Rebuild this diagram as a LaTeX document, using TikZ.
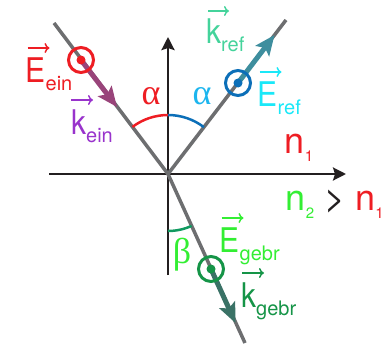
\documentclass[tikz,border=0pt]{standalone}
\usepackage{fontspec}
\setmainfont{TeX Gyre Heros}
\newfontfamily\vecfont{TeX Gyre Heros}[FakeStretch=0.88]
\newfontfamily\greekfont{Liberation Serif}
\usetikzlibrary{arrows.meta}
\definecolor{ink}{HTML}{231F20}
\definecolor{raygray}{HTML}{6D6E70}
\definecolor{einred}{HTML}{EE1D23}
\definecolor{kinpurple}{HTML}{9933CC}
\definecolor{kinarrow}{HTML}{99447A}
\definecolor{refteal}{HTML}{3E8E9E}
\definecolor{refmint}{HTML}{44D39B}
\definecolor{refcyan}{HTML}{1AE8F8}
\definecolor{alphacyan}{HTML}{1CB5EE}
\definecolor{refblue}{HTML}{0C6FB8}
\definecolor{brgreen}{HTML}{33EE33}
\definecolor{brdark}{HTML}{159447}
\definecolor{brarrow}{HTML}{3A7266}
\definecolor{brarc}{HTML}{109A60}
\newcommand{\vlab}[2]{#1\raisebox{-8pt}{\rmfamily\fontsize{20}{20}\selectfont #2}}
\newcommand{\nlab}[1]{n\raisebox{-8pt}{\fontsize{15}{15}\selectfont #1}}
\tikzset{
  every node/.style={inner sep=0pt},
  axis/.style={draw=ink, line width=2.5pt, -{Stealth[length=13pt,width=13pt,inset=2pt]}},
  ray/.style={draw=raygray, line width=3.5pt},
  anglearc/.style={line width=2.5pt},
  karrow/.style={line width=5pt, -{Stealth[length=20pt,width=17pt,inset=4pt]}},
  vecarrow/.style={line width=1.5pt, -{To[length=5pt,width=10pt]}},
  ring/.style={circle, line width=3pt, minimum size=25pt, fill=none},
  veclabel/.style={anchor=base west, font=\vecfont\fontsize{34}{34}\selectfont},
  nlabel/.style={anchor=base west, font=\fontsize{36}{36}\selectfont},
  anglelabel/.style={font=\greekfont\fontsize{36}{36}\selectfont},
}
\begin{document}
\begin{tikzpicture}[x=1pt,y=-1pt]
\useasboundingbox (0,0) rectangle (387,345);
\coordinate (O) at (168,174);
\coordinate (inS) at (54,23); \coordinate (refE) at (286,20); \coordinate (brE) at (245,343);
\coordinate (axL) at (49,174); \coordinate (axR) at (346,174);
\coordinate (axB) at (168,275); \coordinate (axT) at (168,37);
\draw[axis](axL)--(axR); \draw[axis](axB)--(axT);
\draw[ray](inS)--(O)--(refE); \draw[ray](O)--(brE);
\draw[anglearc, draw=einred] (O) ++(233:59) arc[start angle=233, end angle=270, radius=59];
\draw[anglearc, draw=refblue] (O) ++(270:59) arc[start angle=270, end angle=307.5, radius=59];
\draw[anglearc, draw=brarc] (O) ++(65.5:57) arc[start angle=65.5, end angle=90, radius=57];
\coordinate (cin) at (81,60); \coordinate (tin) at (117,107);
\coordinate (cref) at (238,83); \coordinate (tref) at (274.5,35);
\coordinate (cbr) at (211,269); \coordinate (tbr) at (235.5,323);
\draw[karrow, draw=kinarrow](cin)--(tin);
\draw[karrow, draw=refteal](cref)--(tref);
\draw[karrow, draw=brarrow](cbr)--(tbr);
\node[ring, draw=einred] (rin) at (cin) {}; \fill[einred] (rin.center) circle[radius=4.5];
\node[ring, draw=refblue] (rref) at (cref) {}; \fill[refblue] (rref.center) circle[radius=4.5];
\node[ring, draw=brdark] (rbr) at (cbr) {}; \fill[brdark] (rbr.center) circle[radius=4.5];
\node[veclabel, text=einred] (Eein) at (25.5,82) {\vlab{E}{ein}};
\node[veclabel, text=kinpurple] (kein) at (71,134) {\vlab{k}{ein}};
\node[veclabel, text=refmint] (kref) at (206,43) {\vlab{k}{ref}};
\node[veclabel, text=refcyan] (Eref) at (257.5,106) {\vlab{E}{ref}};
\node[veclabel, text=brgreen] (Egebr) at (219.5,252) {\vlab{E}{gebr}};
\node[veclabel, text=brdark] (kgebr) at (241,307) {\vlab{k}{gebr}};
\draw[vecarrow, draw=einred]([shift={(2,-34)}]Eein.base west)--++(22,0);
\draw[vecarrow, draw=kinpurple]([shift={(0,-34)}]kein.base west)--++(22,0);
\draw[vecarrow, draw=refmint]([shift={(2,-32)}]kref.base west)--++(21,0);
\draw[vecarrow, draw=refcyan]([shift={(2,-34)}]Eref.base west)--++(22,0);
\draw[vecarrow, draw=brgreen]([shift={(2,-34)}]Egebr.base west)--++(22,0);
\draw[vecarrow, draw=brdark]([shift={(1,-34)}]kgebr.base west)--++(22,0);
\node[anglelabel, text=einred] (ain) at (151,96) {α};
\node[anglelabel, text=alphacyan] (aref) at (202,96) {α};
\node[anglelabel, text=brgreen] (bbr) at (182,255) {β};
\node[nlabel, text=einred] (none) at (284.7,153) {\nlab{1}};
\node[nlabel] (ntwo) at (285.7,210) {\textcolor{brgreen}{\nlab{2}} \textcolor{ink}{>} \textcolor{einred}{\nlab{1}}};
\end{tikzpicture}
\end{document}
